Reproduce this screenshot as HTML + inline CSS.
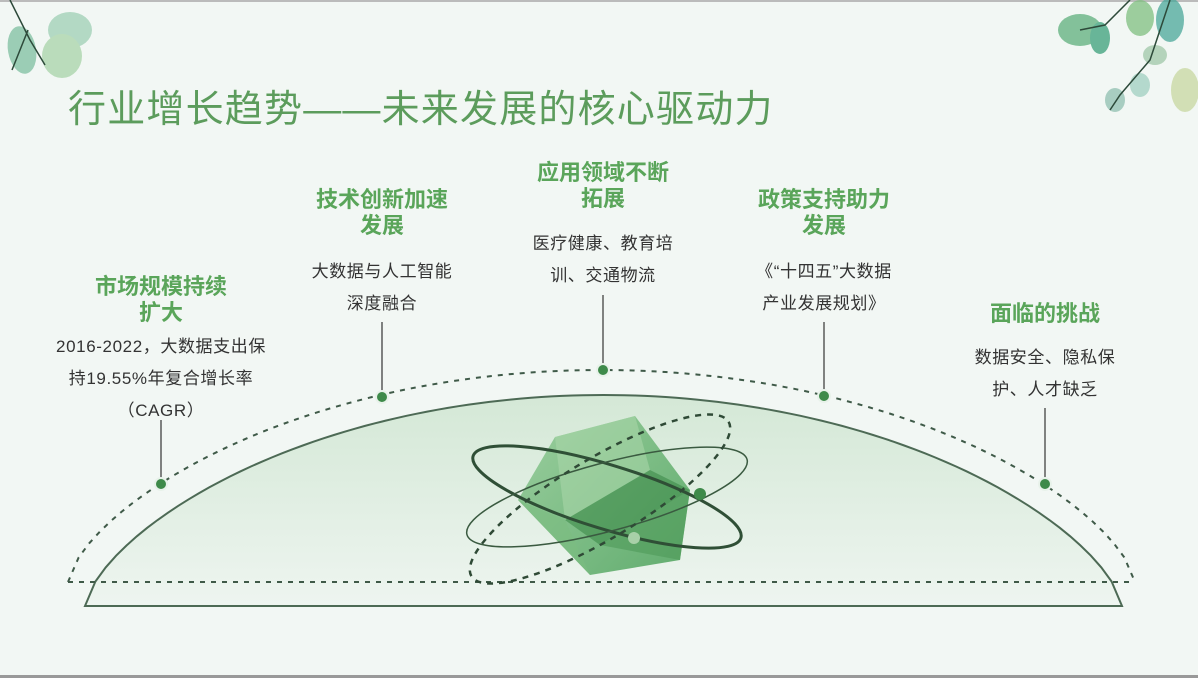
<!DOCTYPE html>
<html><head><meta charset="utf-8"><style>
body{margin:0;width:1198px;height:678px;overflow:hidden;background:#f2f7f4;font-family:"Liberation Sans","Noto Sans CJK SC",sans-serif;position:relative}
.t{position:absolute;left:68px;top:78px;font-size:38px;color:#5c9c5c;letter-spacing:1.2px;white-space:nowrap}
.lab{position:absolute;width:240px;text-align:center;font-weight:bold;color:#5aa55a;font-size:22px;line-height:26px}
.bod{position:absolute;width:240px;text-align:center;color:#333;font-size:17px;line-height:32px;letter-spacing:0.6px}
</style></head><body>
<div style="position:absolute;left:0;top:0;width:1198px;height:2px;background:#bbb"></div>
<div style="position:absolute;left:0;top:675px;width:1198px;height:3px;background:#999"></div>
<svg width="1198" height="678" style="position:absolute;left:0;top:0">
<defs>
<linearGradient id="dg" x1="0" y1="0" x2="0" y2="1"><stop offset="0" stop-color="#d4e8d6"/><stop offset="1" stop-color="#eef5f0"/></linearGradient>
<linearGradient id="cg" x1="0" y1="0" x2="1" y2="1"><stop offset="0" stop-color="#8cc890"/><stop offset="1" stop-color="#3e9a4e"/></linearGradient>
</defs>
<g opacity="0.75">
<ellipse cx="22" cy="50" rx="14" ry="24" fill="#7fbfa0" transform="rotate(-10 22 50)"/>
<ellipse cx="70" cy="30" rx="22" ry="18" fill="#9fd0b4"/>
<ellipse cx="62" cy="56" rx="20" ry="22" fill="#a8d4a8"/>
<ellipse cx="1080" cy="30" rx="22" ry="16" fill="#5fb07c"/>
<ellipse cx="1100" cy="38" rx="10" ry="16" fill="#3aa07a"/>
<ellipse cx="1140" cy="18" rx="14" ry="18" fill="#80c080"/>
<ellipse cx="1170" cy="20" rx="14" ry="22" fill="#4aa89a"/>
<ellipse cx="1155" cy="55" rx="12" ry="10" fill="#a0c8a8"/>
<ellipse cx="1185" cy="90" rx="14" ry="22" fill="#c8d8a0"/>
<ellipse cx="1115" cy="100" rx="10" ry="12" fill="#90c0b0"/>
<ellipse cx="1140" cy="85" rx="10" ry="12" fill="#a0d0c0"/>
</g>
<path d="M10 0 L30 40 M30 40 L45 65 M28 30 L12 70" stroke="#2d4a3a" stroke-width="1.5" fill="none"/>
<path d="M1130 0 L1105 25 L1080 30 M1170 0 L1150 60 L1120 95 L1110 110" stroke="#2d4a3a" stroke-width="1.5" fill="none"/>
<path id="solid" fill="url(#dg)" stroke="#4d6a55" stroke-width="2"/>
<path id="dash" fill="none" stroke="#3f5a48" stroke-width="2" stroke-dasharray="5,6"/>
<line x1="68" y1="582" x2="1135" y2="582" stroke="#3f5a48" stroke-width="2" stroke-dasharray="5,6"/>
<polygon points="555,437 635,416 690,490 680,560 590,575 518,500" fill="url(#cg)" opacity="0.8"/>
<polygon points="555,437 635,416 650,470 565,520" fill="#a8d6a8" opacity="0.6"/>
<polygon points="565,520 650,470 690,490 600,545" fill="#3e8a4a" opacity="0.6"/>
<polygon points="518,500 565,520 590,575" fill="#7cbc80" opacity="0.6"/>
<polygon points="600,545 690,490 680,560" fill="#4f9a58" opacity="0.6"/>
<ellipse cx="607" cy="497" rx="140" ry="32" fill="none" stroke="#2f4f36" stroke-width="3" transform="rotate(17 607 497)"/>
<ellipse cx="607" cy="497" rx="145" ry="34" fill="none" stroke="#3a5a40" stroke-width="1.5" transform="rotate(-15 607 497)"/>
<ellipse cx="600" cy="499" rx="150" ry="40" fill="none" stroke="#2f4a36" stroke-width="2.5" stroke-dasharray="6,6" transform="rotate(-31 600 499)"/>
<circle cx="700" cy="494" r="6" fill="#3e8a4a"/>
<circle cx="634" cy="538" r="6" fill="#a8d0a8"/>
<g stroke="#333" stroke-width="1.2">
<line x1="161" y1="420" x2="161" y2="484"/><line x1="382" y1="322" x2="382" y2="397"/>
<line x1="603" y1="295" x2="603" y2="370"/><line x1="824" y1="322" x2="824" y2="396"/>
<line x1="1045" y1="408" x2="1045" y2="484"/>
</g>
<g fill="#3e8a4a" stroke="#e8f2ea" stroke-width="2">
<circle cx="161" cy="484" r="6"/><circle cx="382" cy="397" r="6"/><circle cx="603" cy="370" r="6"/><circle cx="824" cy="396" r="6"/><circle cx="1045" cy="484" r="6"/>
</g>
</svg>
<script>
function arc(cx,base,hw,h,q){var s="";for(var i=0;i<=100;i++){var x=cx-hw+2*hw*i/100,t=Math.pow((x-cx)/hw,2);var y=base-h*Math.pow(Math.max(0,1-t),q);s+=(i?"L":"M")+x.toFixed(1)+" "+y.toFixed(1);}return s;}
document.getElementById("solid").setAttribute("d",arc(603.5,606,518.5,211,0.667)+"Z");
document.getElementById("dash").setAttribute("d",arc(601.5,582,533.5,212,0.667));
</script>
<div class="t">行业增长趋势——未来发展的核心驱动力</div>
<div class="lab" style="left:41px;top:274px">市场规模持续<br>扩大</div>
<div class="bod" style="left:31px;top:331px;width:260px">2016-2022，大数据支出保<br>持19.55%年复合增长率<br>（CAGR）</div>
<div class="lab" style="left:262px;top:187px">技术创新加速<br>发展</div>
<div class="bod" style="left:262px;top:256px">大数据与人工智能<br>深度融合</div>
<div class="lab" style="left:483px;top:160px">应用领域不断<br>拓展</div>
<div class="bod" style="left:483px;top:228px">医疗健康、教育培<br>训、交通物流</div>
<div class="lab" style="left:704px;top:187px">政策支持助力<br>发展</div>
<div class="bod" style="left:704px;top:256px">《“十四五”大数据<br>产业发展规划》</div>
<div class="lab" style="left:925px;top:301px">面临的挑战</div>
<div class="bod" style="left:925px;top:342px">数据安全、隐私保<br>护、人才缺乏</div>
</body></html>
